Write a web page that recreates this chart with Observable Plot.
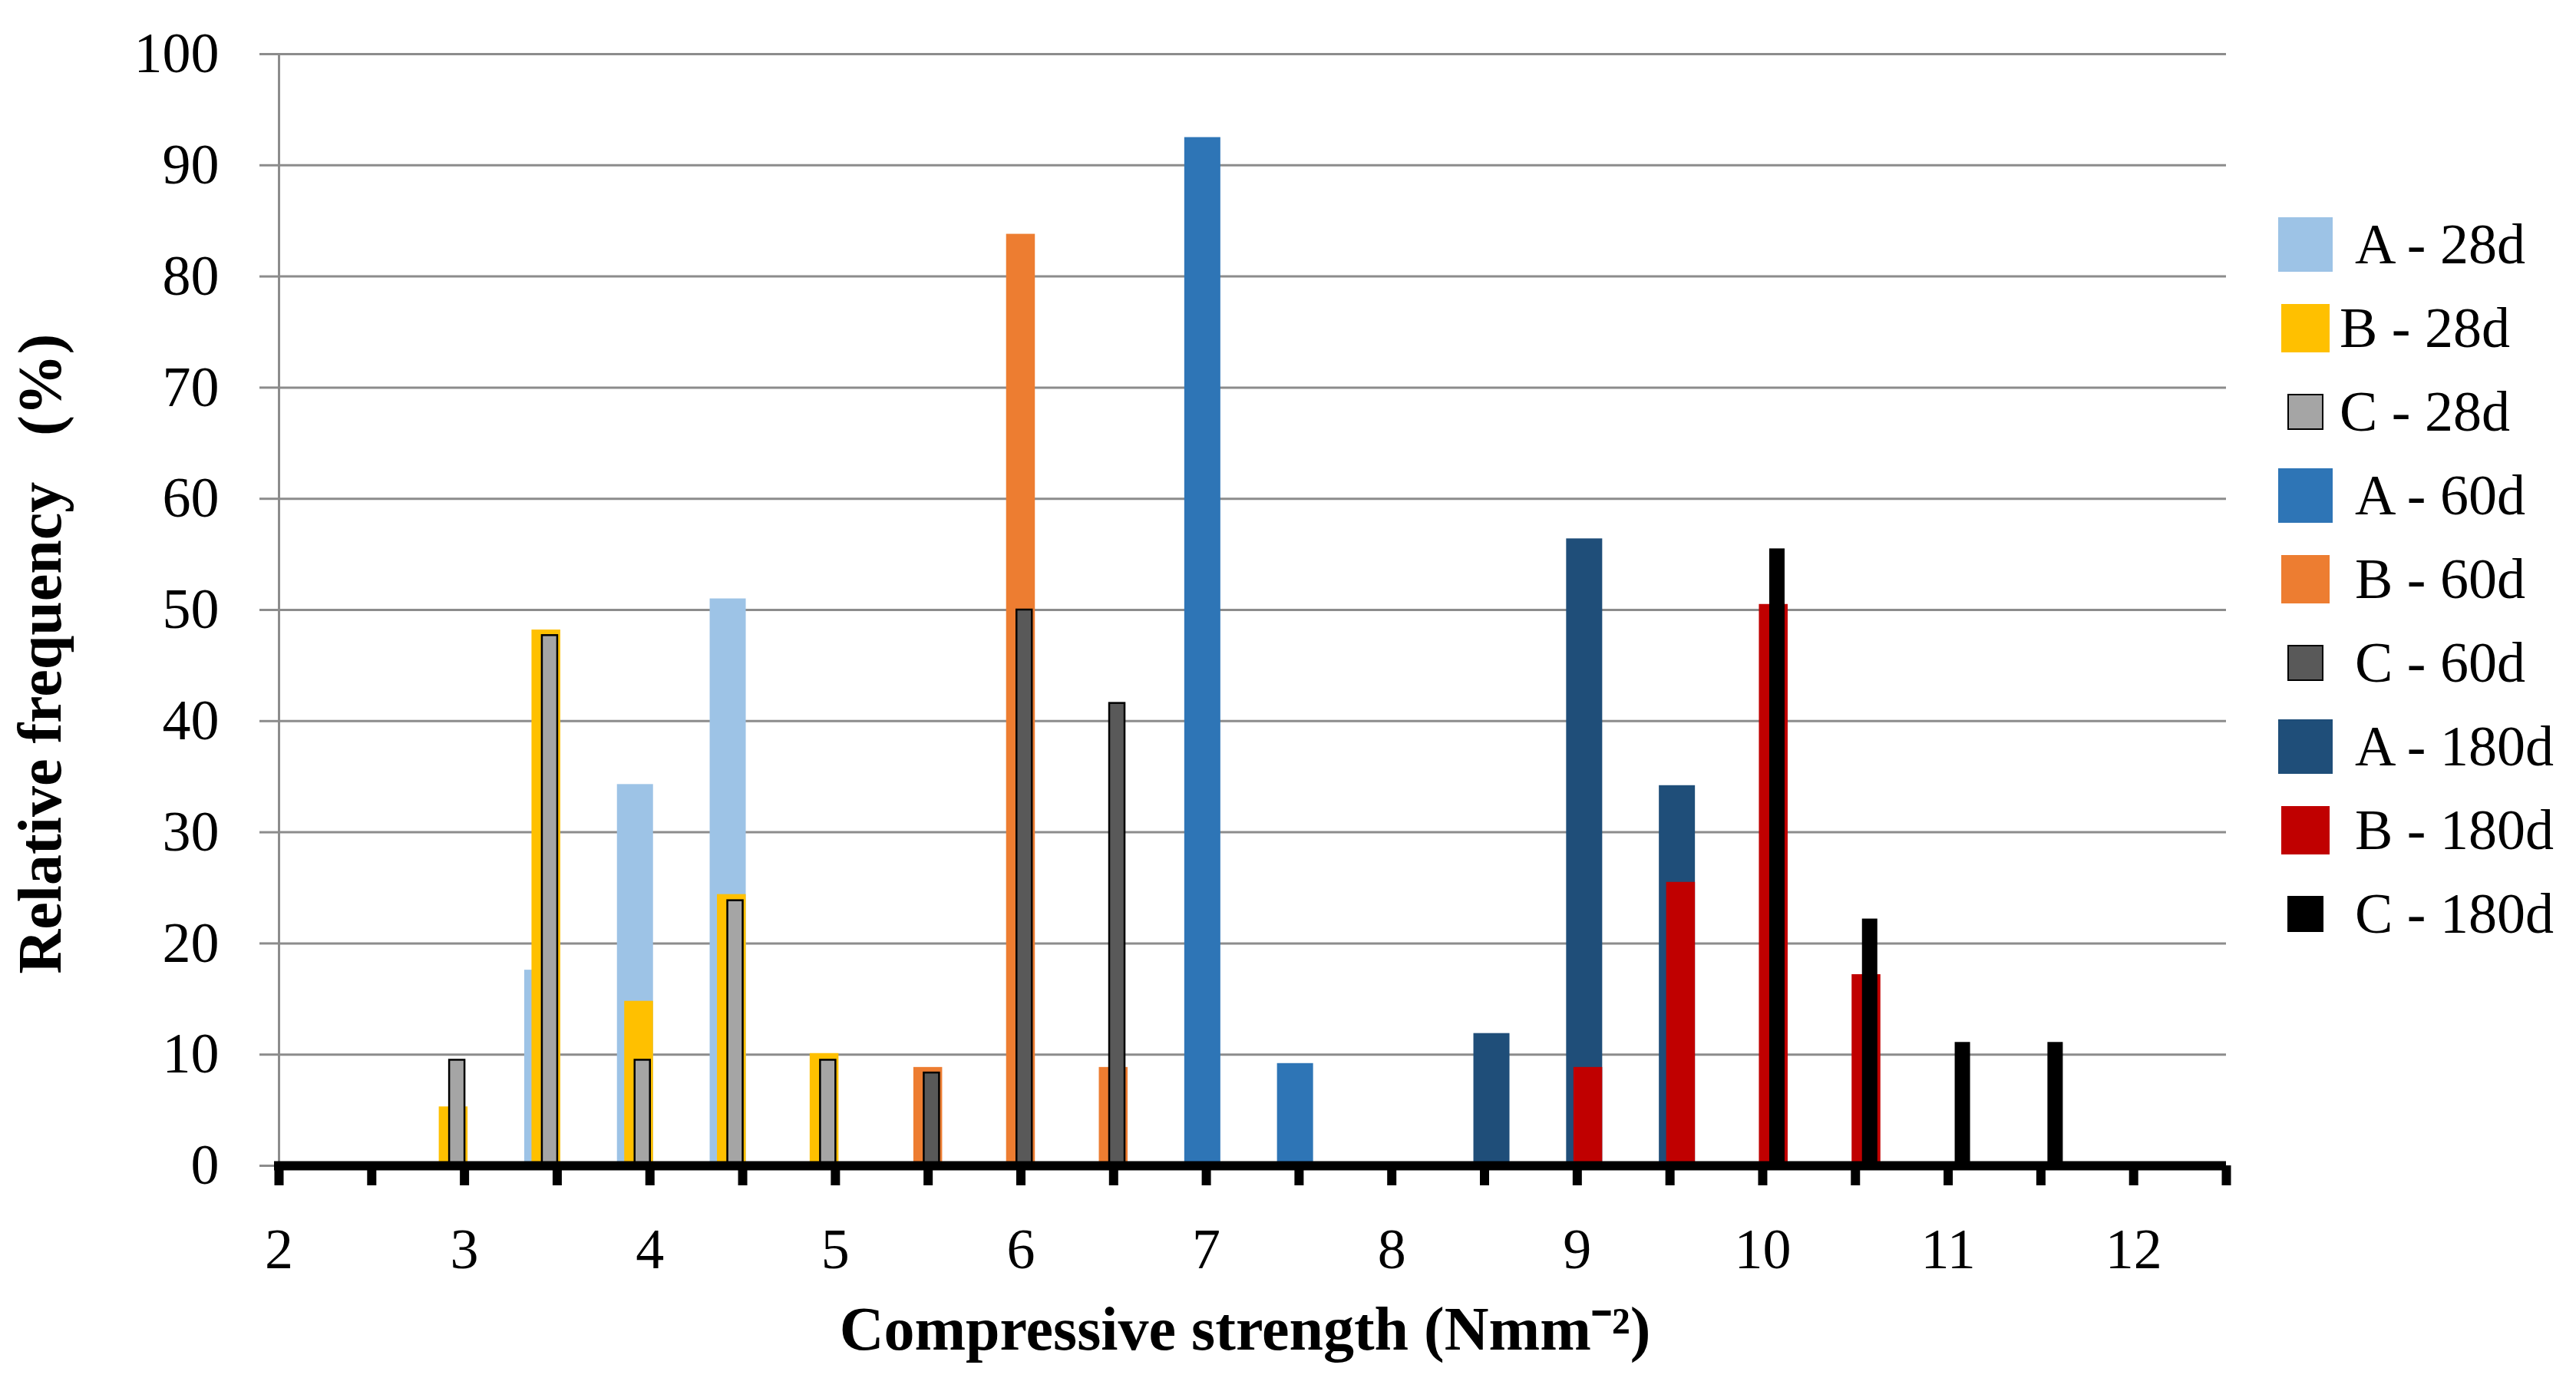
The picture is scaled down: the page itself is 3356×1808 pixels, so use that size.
<!DOCTYPE html>
<html>
<head>
<meta charset="utf-8">
<script src="https://cdn.jsdelivr.net/npm/d3@7"></script>
<script src="https://cdn.jsdelivr.net/npm/@observablehq/plot@0.6"></script>
<style>
  html, body { margin: 0; padding: 0; background: white; }
  #wrap { position: relative; width: 3356px; height: 1808px; overflow: hidden; }
  #legend { position: absolute; left: 0; top: 0; width: 3356px; height: 1808px; pointer-events: none;
    font-family: 'Liberation Serif', 'Times New Roman', serif; font-size: 74px; color: #000; }
  .item { position: absolute; height: 100px; display: flex; align-items: center; white-space: pre; }
  .sw { position: absolute; box-sizing: border-box; }
</style>
</head>
<body>
<div id="wrap"><div id="chart"></div><div id="legend"></div></div>
<script>
// ---- data ----
const strength = [3, 3.5, 4, 4.5, 5, 5.5, 6, 6.5, 7, 7.5, 8.5, 9, 9.5, 10, 10.5, 11, 11.5];
const a28  = [0, 17.6, 34.3, 51.0, 0, 0, 0, 0, 0, 0, 0, 0, 0, 0, 0, 0, 0];
const b28  = [5.3, 48.2, 14.8, 24.4, 10.1, 0, 0, 0, 0, 0, 0, 0, 0, 0, 0, 0, 0];
const c28  = [9.5, 47.7, 9.5, 23.85, 9.5, 0, 0, 0, 0, 0, 0, 0, 0, 0, 0, 0, 0];
const a60  = [0, 0, 0, 0, 0, 0, 0, 0, 92.5, 9.2, 0, 0, 0, 0, 0, 0, 0];
const b60  = [0, 0, 0, 0, 0, 8.85, 83.8, 8.85, 0, 0, 0, 0, 0, 0, 0, 0, 0];
const c60  = [0, 0, 0, 0, 0, 8.35, 50.0, 41.6, 0, 0, 0, 0, 0, 0, 0, 0, 0];
const a180 = [0, 0, 0, 0, 0, 0, 0, 0, 0, 0, 11.9, 56.4, 34.2, 0, 0, 0, 0];
const b180 = [0, 0, 0, 0, 0, 0, 0, 0, 0, 0, 0, 8.85, 25.5, 50.5, 17.2, 0, 0];
const c180 = [0, 0, 0, 0, 0, 0, 0, 0, 0, 0, 0, 0, 0, 55.5, 22.2, 11.1, 11.1];
const seriesLabels = ["A - 28d", "B - 28d", "C - 28d", "A - 60d", "B - 60d", "C - 60d", "A - 180d", "B - 180d", "C - 180d"];
const seriesColors = ["#9DC3E6", "#FFC000", "#A5A5A5", "#2E75B6", "#ED7D31", "#595959", "#1F4E79", "#C00000", "#000000"];
const yTicks = [0, 10, 20, 30, 40, 50, 60, 70, 80, 90, 100];
const xTicks = [2, 2.5, 3, 3.5, 4, 4.5, 5, 5.5, 6, 6.5, 7, 7.5, 8, 8.5, 9, 9.5, 10, 10.5, 11, 11.5, 12, 12.5];
const xTitle = "Compressive strength (Nmm\u207B\u00B2)";
const yTitle = "Relative frequency\u00A0\u00A0\u00A0(%)";

const seriesValues = [a28, b28, c28, a60, b60, c60, a180, b180, c180];
const rows = [];
seriesValues.forEach((vals, s) => vals.forEach((v, i) => { if (v > 0) rows.push({series: s, x: strength[i], value: v}); }));

// ---- styling ----
const kind = s => s % 3;               // 0 = A, 1 = B, 2 = C
const barWidth = [47, 37.5, 20];
const strokeFor = s => (s === 2 || s === 5) ? "#000" : "none";

const barMarks = seriesLabels.map((lab, s) => Plot.rect(rows.filter(r => r.series === s), {
  x1: "x", x2: "x", y1: 0, y2: "value",
  fill: seriesColors[s],
  stroke: strokeFor(s), strokeWidth: 2.5,
  insetLeft: -barWidth[kind(s)] / 2, insetRight: -barWidth[kind(s)] / 2,
  dx: (s - 4) * 4.75
}));

const chart = Plot.plot({
  width: 3356, height: 1808,
  marginTop: 70, marginBottom: 290, marginLeft: 363, marginRight: 456,
  x: {domain: [2, 12.5]},
  y: {domain: [0, 100]},
  style: {fontFamily: "'Liberation Serif', 'Times New Roman', serif", fontSize: "74px", background: "white", color: "black"},
  marks: [
    Plot.gridY(yTicks, {stroke: "#8c8c8c", strokeOpacity: 1, strokeWidth: 3}),
    Plot.axisY(yTicks, {tickSize: 25, tickPadding: 53, stroke: "#8c8c8c", strokeWidth: 3, label: null, fontSize: 74}),
    Plot.ruleX([2], {stroke: "#8c8c8c", strokeWidth: 3}),
    ...barMarks,
    Plot.ruleY([0], {stroke: "#000", strokeWidth: 12, insetLeft: -6}),
    Plot.axisX(xTicks, {tickSize: 26, tickPadding: 55, stroke: "#000", strokeWidth: 12, label: null, fontSize: 74,
      tickFormat: d => Number.isInteger(d) && d <= 12 ? String(d) : ""}),
    Plot.text([xTitle], {text: d => d, frameAnchor: "bottom", textAnchor: "middle", lineAnchor: "bottom", dy: 239, dx: -10,
      fontWeight: "bold", fontSize: 80, fill: "#000"}),
    Plot.text([yTitle], {text: d => d, frameAnchor: "left", textAnchor: "middle", rotate: -90, lineAnchor: "bottom", dx: -285, dy: 57,
      fontWeight: "bold", fontSize: 80, fill: "#000"})
  ]
});
document.getElementById("chart").appendChild(chart);

// ---- legend (HTML, in the right margin) ----
const legend = document.getElementById("legend");
const swSize = [71, 63, 47];
seriesLabels.forEach((lab, s) => {
  const cy = 318 + s * 109;
  const size = swSize[kind(s)];
  const sw = document.createElement("div");
  sw.className = "sw";
  sw.style.left = (3003 - size / 2) + "px";
  sw.style.top = (cy - size / 2) + "px";
  sw.style.width = size + "px";
  sw.style.height = size + "px";
  sw.style.background = seriesColors[s];
  if (strokeFor(s) !== "none") sw.style.border = "2.5px solid #000";
  legend.appendChild(sw);
  const it = document.createElement("div");
  it.className = "item";
  it.style.left = ((s === 1 || s === 2) ? 3048 : 3068) + "px";
  it.style.top = (cy - 50) + "px";
  it.textContent = lab;
  legend.appendChild(it);
});
</script>
</body>
</html>
